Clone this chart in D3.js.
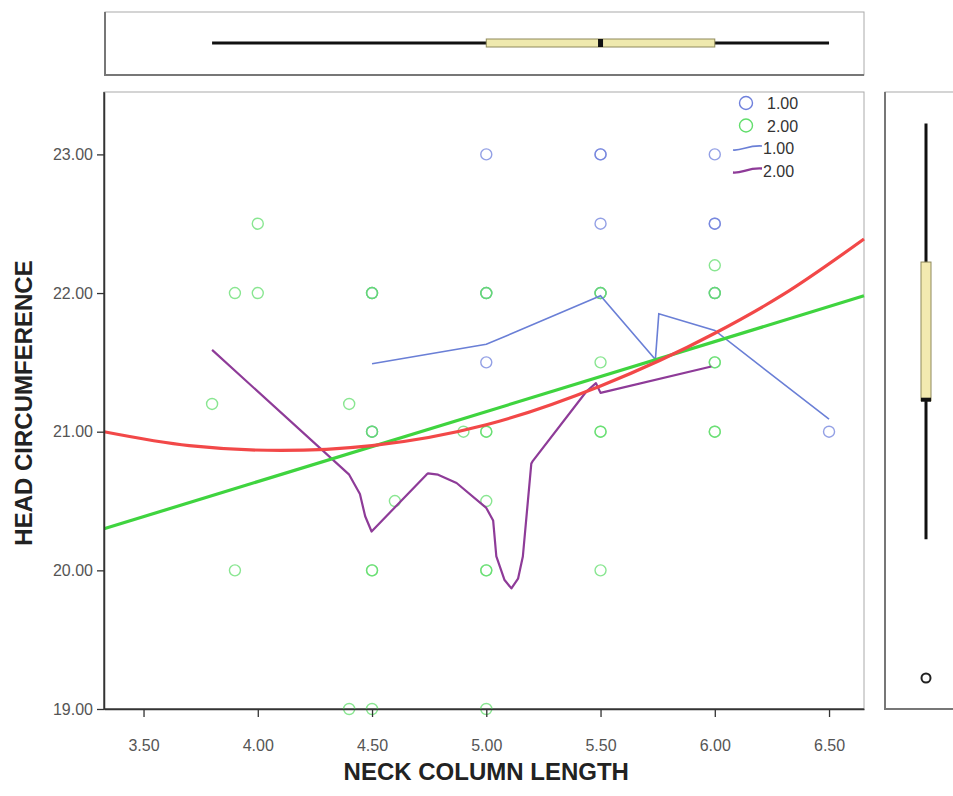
<!DOCTYPE html>
<html>
<head>
<meta charset="utf-8">
<script src="https://cdn.jsdelivr.net/npm/d3@7"></script>
<style>
  body { margin: 0; background: #fff; }
  svg { display: block; font-family: "Liberation Sans", Arial, sans-serif; }
</style>
</head>
<body>
<div id="chart"></div>
<script>
// scatter points, group 1 (blue) and group 2 (green); repeats = overlapping cases
const group1 = [
  [4.5, 22], [4.5, 21],
  [5.0, 23], [5.0, 21.5], [5.0, 22],
  [5.5, 23], [5.5, 23], [5.5, 22.5], [5.5, 22],
  [6.0, 23], [6.0, 22.5], [6.0, 22.5], [6.0, 22],
  [6.5, 21]
];
const group2 = [
  [3.8, 21.2], [3.9, 22], [3.9, 20], [4.0, 22], [4.0, 22.5],
  [4.4, 21.2], [4.4, 19],
  [4.5, 22], [4.5, 22], [4.5, 21], [4.5, 21], [4.5, 20], [4.5, 20], [4.5, 19],
  [4.6, 20.5], [4.9, 21],
  [5.0, 22], [5.0, 22], [5.0, 21], [5.0, 21], [5.0, 20.5], [5.0, 20], [5.0, 20], [5.0, 19],
  [5.5, 22], [5.5, 22], [5.5, 21.5], [5.5, 21], [5.5, 21], [5.5, 20],
  [6.0, 22.2], [6.0, 22], [6.0, 22], [6.0, 21.5], [6.0, 21.5], [6.0, 21], [6.0, 21]
];

// fit lines
const linearFit = [[3.327, 20.30], [6.653, 21.98]];
const quadFit = [
  [3.327, 21.00], [3.7, 20.90], [4.1, 20.865], [4.5, 20.90], [5.0, 21.05],
  [5.5, 21.33], [6.0, 21.71], [6.3, 21.99], [6.653, 22.39]
];

// loess lines per group
const loess1 = [
  [4.5, 21.49], [5.0, 21.63], [5.5, 21.98], [5.74, 21.52], [5.755, 21.85],
  [6.0, 21.73], [6.5, 21.09]
];
const loess2 = [
  [3.80, 21.59], [4.40, 20.69], [4.447, 20.55], [4.47, 20.39], [4.498, 20.28],
  [4.738, 20.69], [4.745, 20.70], [4.789, 20.69], [4.87, 20.63], [5.0, 20.45],
  [5.03, 20.36], [5.044, 20.10], [5.08, 19.93], [5.11, 19.87], [5.139, 19.94],
  [5.16, 20.10], [5.197, 20.77], [5.204, 20.79], [5.438, 21.29], [5.48, 21.35],
  [5.5, 21.28], [5.985, 21.47]
];

// marginal boxplots: [min, q1, median, q3, max]
const neckBox = [3.8, 5.0, 5.5, 6.0, 6.5];
const headBox = [20, 21, 21, 22, 23];
const headOutliers = [19];

const xTicks = [3.5, 4.0, 4.5, 5.0, 5.5, 6.0, 6.5];
const yTicks = [19, 20, 21, 22, 23];
const legendLabels = ["1.00", "2.00"];

const width = 953, height = 796;
const margin = {top: 92, left: 104, right: 89, bottom: 87};

const svg = d3.select("#chart").append("svg")
    .attr("width", width)
    .attr("height", height);

const xScale = d3.scaleLinear()
    .domain([3.327, 6.653])
    .range([margin.left, width - margin.right]);

const yScale = d3.scaleLinear()
    .domain([19, 23.45])
    .range([height - margin.bottom, margin.top]);

// right panel sits a little higher than the main plot
const yRight = d3.scaleLinear()
    .domain([19, 23.45])
    .range([height - margin.bottom - 31, margin.top - 31]);

const blue = "#6f80dc";
const green = "#62de6c";

/* frames */
function frame(x, y, w, h) {
    svg.append("rect")
        .attr("x", x).attr("y", y).attr("width", w).attr("height", h)
        .attr("fill", "#fff").attr("stroke", "#aaa").attr("stroke-width", 1);
    svg.append("path")
        .attr("d", `M${x},${y} V${y + h} H${x + w}`)
        .attr("fill", "none").attr("stroke", "#777").attr("stroke-width", 2);
}
frame(105, 12, 759, 63);
frame(margin.left, margin.top, width - margin.left - margin.right, height - margin.top - margin.bottom);
frame(885, 92, 80, 617);

/* top boxplot */
const topY = 43;
svg.append("line")
    .attr("x1", xScale(neckBox[0])).attr("x2", xScale(neckBox[4]))
    .attr("y1", topY).attr("y2", topY)
    .attr("stroke", "#111").attr("stroke-width", 3);
svg.append("rect")
    .attr("x", xScale(neckBox[1])).attr("y", topY - 4)
    .attr("width", xScale(neckBox[3]) - xScale(neckBox[1])).attr("height", 8)
    .attr("fill", "#efe9ae").attr("stroke", "#8f8a5c").attr("stroke-width", 1);
svg.append("rect")
    .attr("x", xScale(neckBox[2]) - 2.5).attr("y", topY - 4)
    .attr("width", 5).attr("height", 8)
    .attr("fill", "#111");

/* right boxplot */
const rightX = 926;
const rPanel = svg.append("g");
rPanel.append("line")
    .attr("x1", rightX).attr("x2", rightX)
    .attr("y1", yRight(headBox[0])).attr("y2", yRight(headBox[4]))
    .attr("stroke", "#111").attr("stroke-width", 3);
rPanel.append("rect")
    .attr("x", rightX - 5).attr("y", yRight(headBox[3]))
    .attr("width", 10).attr("height", yRight(headBox[1]) - yRight(headBox[3]))
    .attr("fill", "#f3eab0").attr("stroke", "#8f8a5c").attr("stroke-width", 1);
rPanel.append("rect")
    .attr("x", rightX - 5).attr("y", yRight(headBox[2]) - 3)
    .attr("width", 10).attr("height", 4)
    .attr("fill", "#111");
rPanel.selectAll(".outlier")
    .data(headOutliers)
    .enter()
    .append("circle")
        .attr("class", "outlier")
        .attr("cx", rightX)
        .attr("cy", function(d) { return yRight(d); })
        .attr("r", 4.5)
        .attr("fill", "none")
        .attr("stroke", "#222")
        .attr("stroke-width", 2);

/* main plot */
const plot = svg.append("g");

const line = d3.line()
    .x(function(d) { return xScale(d[0]); })
    .y(function(d) { return yScale(d[1]); });

plot.selectAll(".p1")
    .data(group1)
    .enter()
    .append("circle")
        .attr("class", "p1")
        .attr("cx", function(d) { return xScale(d[0]); })
        .attr("cy", function(d) { return yScale(d[1]); })
        .attr("r", 5.5)
        .attr("fill", "none")
        .attr("stroke", blue)
        .attr("stroke-opacity", 0.75)
        .attr("stroke-width", 1.4);

plot.selectAll(".p2")
    .data(group2)
    .enter()
    .append("circle")
        .attr("class", "p2")
        .attr("cx", function(d) { return xScale(d[0]); })
        .attr("cy", function(d) { return yScale(d[1]); })
        .attr("r", 5.5)
        .attr("fill", "none")
        .attr("stroke", green)
        .attr("stroke-opacity", 0.75)
        .attr("stroke-width", 1.4);

plot.append("path")
    .datum(loess1)
    .attr("d", line)
    .attr("fill", "none")
    .attr("stroke", "#6a7fd6")
    .attr("stroke-width", 1.6);

plot.append("path")
    .datum(loess2)
    .attr("d", line)
    .attr("fill", "none")
    .attr("stroke", "#8e3b98")
    .attr("stroke-width", 2.2)
    .attr("stroke-linejoin", "round");

plot.append("path")
    .datum(linearFit)
    .attr("d", line)
    .attr("fill", "none")
    .attr("stroke", "#3fd43f")
    .attr("stroke-width", 3.2);

plot.append("path")
    .datum(quadFit)
    .attr("d", line.curve(d3.curveMonotoneX))
    .attr("fill", "none")
    .attr("stroke", "#f24848")
    .attr("stroke-width", 3.2);

/* axes */
const xAxis = svg.append("g")
    .attr("transform", `translate(0,${height - margin.bottom})`)
    .call(d3.axisBottom(xScale).tickValues(xTicks).tickFormat(d3.format(".2f")).tickSize(8).tickSizeOuter(0));

const yAxis = svg.append("g")
    .attr("transform", `translate(${margin.left},0)`)
    .call(d3.axisLeft(yScale).tickValues(yTicks).tickFormat(d3.format(".2f")).tickSize(7).tickSizeOuter(0));

svg.selectAll(".domain").attr("stroke", "#333").attr("stroke-width", 1.5);
svg.selectAll(".tick line").attr("stroke", "#333").attr("stroke-width", 1.3);
svg.selectAll(".tick text")
    .attr("fill", "#555")
    .style("font-size", "16px")
    .style("font-family", "'Liberation Sans', Arial, sans-serif");
xAxis.selectAll(".tick text").attr("y", 42).attr("dy", "0");
yAxis.selectAll(".tick text").attr("x", -11);

svg.append("text")
    .attr("x", xScale(5.0))
    .attr("y", 780)
    .attr("text-anchor", "middle")
    .style("font-size", "24px")
    .style("font-weight", "bold")
    .attr("fill", "#222")
    .text("NECK COLUMN LENGTH");

svg.append("text")
    .attr("transform", `translate(32,403) rotate(-90)`)
    .attr("text-anchor", "middle")
    .style("font-size", "24px")
    .style("font-weight", "bold")
    .attr("fill", "#222")
    .text("HEAD CIRCUMFERENCE");

/* legend */
const legend = svg.append("g");
const legendColors = [blue, green];
legendLabels.forEach(function(lab, i) {
    legend.append("circle")
        .attr("cx", 746).attr("cy", 103 + i * 22.5)
        .attr("r", 6.5)
        .attr("fill", "none")
        .attr("stroke", legendColors[i])
        .attr("stroke-width", 1.4);
    legend.append("text")
        .attr("x", 767).attr("y", 109 + i * 22.5)
        .style("font-size", "16px")
        .attr("fill", "#333")
        .text(lab);
});
const lineColors = ["#6a7fd6", "#8e3b98"];
legendLabels.forEach(function(lab, i) {
    const ly = 148 + i * 22.5;
    legend.append("path")
        .attr("d", `M733,${ly + 2} C742,${ly + 3} 748,${ly - 3} 762,${ly - 2}`)
        .attr("fill", "none")
        .attr("stroke", lineColors[i])
        .attr("stroke-width", i === 0 ? 1.6 : 2.4);
    legend.append("text")
        .attr("x", 763).attr("y", ly + 6)
        .style("font-size", "16px")
        .attr("fill", "#333")
        .text(lab);
});
</script>
</body>
</html>
